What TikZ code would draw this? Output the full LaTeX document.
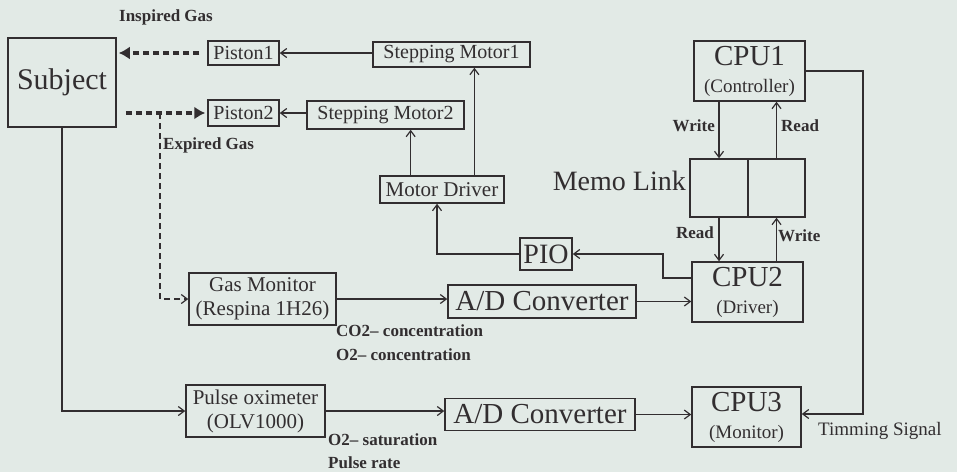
\documentclass[tikz,border=0pt]{standalone}
\usepackage{fontspec}
\setmainfont{Liberation Serif}
\usetikzlibrary{arrows.meta,calc}
\definecolor{bg}{RGB}{226,234,230}
\definecolor{ink}{RGB}{50,46,48}
\tikzset{
  blk/.style={draw=ink,line width=1.5pt,inner sep=0pt,text=ink,align=center},
  cpu/.style={blk,font=\fontsize{19}{27}\selectfont},
  lnk/.style={draw=ink,line width=1.3pt,-{Straight Barb[length=6pt,width=9pt,line width=1.2pt]}},
  gas/.style={draw=ink,line width=4pt,dash pattern=on 6pt off 4pt,-{Latex[length=11pt,width=13pt]}},
  lbl/.style={text=ink,font=\bfseries\fontsize{17}{19}\selectfont,inner sep=0pt},
  rw/.style={text=ink,font=\bfseries\fontsize{17}{19}\selectfont,inner sep=0pt},
}
\begin{document}
\begin{tikzpicture}[x=1pt,y=-1pt]
\fill[bg] (0,0) rectangle (957,472);
\useasboundingbox (0,0) rectangle (957,472);
% blocks
\node[blk,minimum width=108pt,minimum height=89pt,font=\fontsize{30}{32}\selectfont] (subj) at (62,82.5) {Subject};
\node[blk,minimum width=71pt,minimum height=24pt,font=\fontsize{20}{22}\selectfont] (p1) at (243.5,53) {Piston1};
\node[blk,minimum width=71pt,minimum height=26pt,font=\fontsize{20}{22}\selectfont] (p2) at (243.5,113) {Piston2};
\node[blk,minimum width=157pt,minimum height=25pt,font=\fontsize{20}{22}\selectfont] (sm1) at (451.5,54.5) {Stepping Motor1};
\node[blk,minimum width=157pt,minimum height=28pt,font=\fontsize{20}{22}\selectfont] (sm2) at (385.5,115) {Stepping Motor2};
\node[blk,minimum width=124pt,minimum height=27pt,font=\fontsize{21}{23}\selectfont] (md) at (442,189.5) {Motor Driver};
\node[cpu,minimum width=111pt,minimum height=60pt] (cpu1) at (749.5,71) {{\fontsize{29}{27}\selectfont CPU1}\\(Controller)};
\node[blk,minimum width=58pt,minimum height=58pt] (meml) at (719,188) {};
\node[blk,minimum width=57pt,minimum height=58pt] (memr) at (776.5,188) {};
\node[text=ink,inner sep=0pt,anchor=east,font=\fontsize{28}{30}\selectfont] (memo) at (686,181) {Memo Link};
\node[cpu,minimum width=111pt,minimum height=60pt] (cpu2) at (747.5,292) {{\fontsize{29}{27}\selectfont CPU2}\\(Driver)};
\node[blk,minimum width=52pt,minimum height=32pt,font=\fontsize{28}{30}\selectfont] (pio) at (546,254) {PIO};
\node[blk,minimum width=188pt,minimum height=33pt,font=\fontsize{29}{31}\selectfont] (ad1) at (542,301.5) {A/D Converter};
\node[blk,minimum width=147pt,minimum height=52pt,font=\fontsize{21}{24}\selectfont] (gm) at (262.5,299) {Gas Monitor\\(Respina 1H26)};
\node[blk,minimum width=139pt,minimum height=52pt,font=\fontsize{21}{24}\selectfont] (po) at (255.5,411) {Pulse oximeter\\(OLV1000)};
\node[blk,minimum width=190pt,minimum height=32pt,font=\fontsize{29}{31}\selectfont] (ad2) at (540,414.5) {A/D Converter};
\node[cpu,minimum width=109pt,minimum height=60pt] (cpu3) at (746.5,417) {{\fontsize{29}{27}\selectfont CPU3}\\(Monitor)};
% labels
\node[lbl] (insp) at (166,17) {Inspired Gas};
\node[lbl,anchor=west] (exp) at (163,145) {Expired Gas};
\node[lbl,anchor=west] (co2) at (336,331) {CO2– concentration};
\node[lbl,anchor=west] (o2c) at (336,355) {O2– concentration};
\node[lbl,anchor=west] (o2s) at (328,440) {O2– saturation};
\node[lbl,anchor=west] (pr) at (328,463) {Pulse rate};
\node[text=ink,inner sep=0pt,anchor=west,font=\fontsize{19}{21}\selectfont] (tim) at (818,431) {Timming Signal};
% gas arrows
\draw[gas,shorten <=8pt,shorten >=2pt] (p1.west) -- (p1.west -| subj.east);
\draw[gas,shorten <=9pt,shorten >=2pt] (p2.west -| subj.east) -- (p2.west);
\coordinate (eg) at (160,113);
\draw[lnk,dash pattern=on 6pt off 4pt] (eg) |- (gm.west);
% motor links
\coordinate (mda) at ($(md.north west)!0.25!(md.north east)$);
\coordinate (mdb) at ($(md.north west)!0.758!(md.north east)$);
\coordinate (mdc) at ($(md.south)+(-5,0)$);
\coordinate (pbend) at (663,254);
\draw[lnk] (p1.east -| sm1.west) -- (p1.east);
\draw[lnk] (sm2.west |- p2.east) -- (p2.east);
\draw[lnk] (mda) -- (mda |- sm2.south);
\draw[lnk] (mdb) -- (mdb |- sm1.south);
\draw[lnk] (pio.west) -| (mdc);
\draw[lnk] ($(cpu2.west)+(0,-14)$) -| (pbend) -- (pio.east);
% memo link
\draw[lnk] (meml.north |- cpu1.south) -- (meml.north);
\draw[lnk] (memr.north) -- (memr.north |- cpu1.south);
\draw[lnk] (meml.south) -- (meml.south |- cpu2.north);
\draw[lnk] (memr.south |- cpu2.north) -- (memr.south);
\node[rw,anchor=east] (w1) at (715,126) {Write};
\node[rw,anchor=west] (r1) at (781,126) {Read};
\node[rw,anchor=east] (r2) at (714,233) {Read};
\node[rw,anchor=west] (w2) at (778,236) {Write};
% data paths
\coordinate (tbend) at (863,414);
\draw[lnk] (gm.east) -- (gm.east -| ad1.west);
\draw[lnk] (ad1.east) -- (ad1.east -| cpu2.west);
\draw[lnk] (subj.south) |- (po.west);
\draw[lnk] (po.east) -- (po.east -| ad2.west);
\draw[lnk] (ad2.east) -- (ad2.east -| cpu3.west);
\draw[lnk] (cpu1.east) -| (tbend) -- (tbend -| cpu3.east);
\end{tikzpicture}
\end{document}
